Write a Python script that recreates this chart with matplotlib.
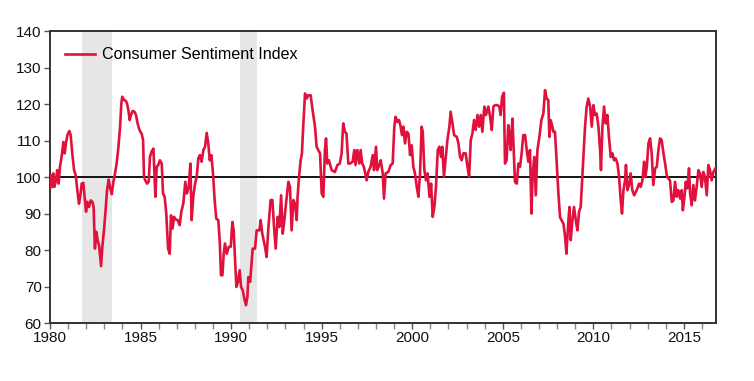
import matplotlib
matplotlib.use("Agg")
import matplotlib.pyplot as plt
from matplotlib.ticker import MultipleLocator

plt.rcParams['font.family'] = ['Liberation Sans', 'DejaVu Sans']

series_name = "Consumer Sentiment Index"

years = [
    1980.00, 1980.06, 1980.11, 1980.18, 1980.24, 1980.33, 1980.40, 1980.48, 1980.55, 1980.64,
    1980.74, 1980.81, 1980.88, 1980.96, 1981.07, 1981.14, 1981.23, 1981.33, 1981.42, 1981.51,
    1981.60, 1981.67, 1981.75, 1981.84, 1981.91, 1981.99, 1982.06, 1982.15, 1982.25, 1982.34,
    1982.41, 1982.48, 1982.56, 1982.63, 1982.71, 1982.82, 1982.89, 1982.98, 1983.07, 1983.15,
    1983.24, 1983.31, 1983.41, 1983.50, 1983.59, 1983.68, 1983.77, 1983.87, 1983.94, 1983.99,
    1984.09, 1984.18, 1984.25, 1984.33, 1984.40, 1984.47, 1984.56, 1984.66, 1984.75, 1984.82,
    1984.91, 1984.99, 1985.06, 1985.14, 1985.19, 1985.26, 1985.36, 1985.45, 1985.52, 1985.60,
    1985.71, 1985.76, 1985.82, 1985.89, 1985.98, 1986.07, 1986.17, 1986.24, 1986.33, 1986.42,
    1986.52, 1986.61, 1986.68, 1986.77, 1986.85, 1986.94, 1987.05, 1987.16, 1987.25, 1987.36,
    1987.47, 1987.56, 1987.66, 1987.75, 1987.82, 1987.91, 1988.01, 1988.10, 1988.19, 1988.28,
    1988.37, 1988.47, 1988.56, 1988.65, 1988.74, 1988.82, 1988.91, 1989.00, 1989.09, 1989.18,
    1989.29, 1989.37, 1989.44, 1989.52, 1989.59, 1989.66, 1989.76, 1989.87, 1989.98, 1990.07,
    1990.14, 1990.22, 1990.29, 1990.38, 1990.47, 1990.55, 1990.64, 1990.73, 1990.82, 1990.90,
    1990.95, 1991.05, 1991.19, 1991.32, 1991.41, 1991.56, 1991.63, 1991.72, 1991.87, 1991.96,
    1992.06, 1992.18, 1992.28, 1992.37, 1992.46, 1992.57, 1992.66, 1992.76, 1992.85, 1992.94,
    1993.03, 1993.16, 1993.25, 1993.34, 1993.44, 1993.53, 1993.62, 1993.67, 1993.75, 1993.84,
    1993.91, 1993.98, 1994.08, 1994.17, 1994.26, 1994.39, 1994.50, 1994.63, 1994.72, 1994.81,
    1994.91, 1995.00, 1995.09, 1995.18, 1995.24, 1995.31, 1995.40, 1995.55, 1995.73, 1995.87,
    1996.00, 1996.10, 1996.19, 1996.28, 1996.37, 1996.47, 1996.56, 1996.71, 1996.80, 1996.87,
    1996.97, 1997.08, 1997.15, 1997.24, 1997.33, 1997.48, 1997.57, 1997.70, 1997.82, 1997.89,
    1998.00, 1998.07, 1998.18, 1998.26, 1998.37, 1998.44, 1998.53, 1998.68, 1998.81, 1998.92,
    1999.01, 1999.08, 1999.18, 1999.27, 1999.36, 1999.43, 1999.51, 1999.60, 1999.69, 1999.79,
    1999.88, 1999.97, 2000.06, 2000.15, 2000.25, 2000.34, 2000.43, 2000.52, 2000.58, 2000.67,
    2000.76, 2000.85, 2000.95, 2001.04, 2001.13, 2001.22, 2001.31, 2001.41, 2001.50, 2001.59,
    2001.66, 2001.75, 2001.85, 2001.94, 2002.05, 2002.12, 2002.22, 2002.31, 2002.46, 2002.55,
    2002.64, 2002.73, 2002.82, 2002.95, 2003.05, 2003.14, 2003.23, 2003.32, 2003.41, 2003.50,
    2003.60, 2003.69, 2003.78, 2003.87, 2003.98, 2004.07, 2004.20, 2004.30, 2004.39, 2004.48,
    2004.57, 2004.70, 2004.81, 2004.88, 2004.96, 2005.06, 2005.12, 2005.21, 2005.30, 2005.36,
    2005.43, 2005.53, 2005.58, 2005.67, 2005.77, 2005.86, 2005.95, 2006.04, 2006.13, 2006.23,
    2006.32, 2006.41, 2006.50, 2006.58, 2006.65, 2006.74, 2006.82, 2006.91, 2007.02, 2007.13,
    2007.24, 2007.33, 2007.42, 2007.51, 2007.57, 2007.64, 2007.72, 2007.79, 2007.88, 2007.98,
    2008.07, 2008.16, 2008.25, 2008.35, 2008.44, 2008.51, 2008.61, 2008.68, 2008.75, 2008.84,
    2008.93, 2009.03, 2009.12, 2009.21, 2009.30, 2009.36, 2009.45, 2009.54, 2009.63, 2009.72,
    2009.82, 2009.91, 2010.00, 2010.09, 2010.18, 2010.28, 2010.37, 2010.42, 2010.50, 2010.59,
    2010.68, 2010.77, 2010.86, 2010.96, 2011.05, 2011.14, 2011.23, 2011.33, 2011.42, 2011.51,
    2011.58, 2011.66, 2011.75, 2011.80, 2011.88, 2011.99, 2012.06, 2012.15, 2012.25, 2012.34,
    2012.43, 2012.52, 2012.61, 2012.71, 2012.80, 2012.87, 2012.95, 2013.04, 2013.13, 2013.22,
    2013.31, 2013.41, 2013.50, 2013.59, 2013.68, 2013.77, 2013.87, 2013.96, 2014.05, 2014.14,
    2014.23, 2014.33, 2014.42, 2014.51, 2014.60, 2014.69, 2014.79, 2014.88, 2014.94, 2015.03,
    2015.10, 2015.19, 2015.28, 2015.34, 2015.43, 2015.52, 2015.61, 2015.70, 2015.80, 2015.89,
    2015.98, 2016.07, 2016.16, 2016.26, 2016.35, 2016.44, 2016.53, 2016.63, 2016.74,
]

values = [
    97.0, 100.5, 97.3, 101.0, 97.3, 99.1, 101.9, 98.2, 102.8, 105.5,
    109.6, 106.5, 109.2, 111.5, 112.6, 111.5, 106.5, 101.9, 100.5, 96.4,
    92.7, 94.6, 98.2, 98.4, 94.6, 90.5, 93.2, 91.8, 93.6, 93.2,
    91.8, 80.4, 85.0, 82.7, 81.3, 75.6, 80.9, 85.4, 90.9, 96.4,
    99.3, 97.3, 95.3, 98.7, 101.0, 103.7, 107.8, 113.8, 120.2, 122.0,
    121.1, 120.9, 120.2, 118.3, 115.6, 117.0, 118.1, 117.9, 117.0, 115.1,
    113.3, 112.4, 111.9, 110.1, 100.1, 99.1, 98.2, 98.7, 105.5, 106.9,
    107.8, 101.9, 94.6, 102.8, 103.3, 104.6, 103.7, 95.5, 94.6, 90.0,
    80.4, 79.0, 89.5, 85.9, 89.1, 88.4, 88.2, 86.8, 90.5, 92.7,
    98.7, 95.5, 97.3, 103.7, 88.2, 94.6, 98.2, 100.1, 105.1, 106.0,
    104.2, 107.4, 108.3, 112.1, 109.2, 104.6, 106.0, 101.0, 93.7, 88.6,
    88.2, 82.7, 73.1, 73.1, 79.0, 81.8, 79.0, 80.9, 80.9, 87.7,
    85.4, 77.2, 69.9, 71.3, 74.5, 69.9, 69.0, 66.7, 64.9, 67.2,
    72.6, 71.3, 80.4, 80.4, 85.4, 85.4, 88.2, 84.5, 80.9, 78.1,
    86.3, 93.7, 93.7, 86.3, 80.4, 89.1, 86.3, 95.0, 84.5, 88.2,
    92.7, 98.7, 97.3, 85.4, 93.7, 92.7, 88.2, 94.6, 100.1, 104.6,
    106.5, 113.8, 122.9, 121.5, 122.4, 122.4, 118.3, 113.8, 108.3, 107.4,
    106.5, 95.5, 94.6, 107.4, 110.6, 103.7, 104.6, 101.9, 101.4, 103.3,
    103.7, 106.5, 114.7, 112.4, 111.9, 103.7, 103.7, 104.2, 107.4, 103.3,
    107.4, 103.7, 107.4, 103.7, 102.8, 99.1, 101.4, 102.8, 106.0, 101.9,
    108.3, 101.9, 103.3, 104.6, 101.0, 94.1, 101.0, 101.4, 103.3, 103.7,
    113.8, 116.5, 115.1, 115.6, 113.8, 111.5, 113.8, 109.2, 112.4, 111.9,
    106.0, 108.7, 102.8, 101.0, 97.3, 94.6, 101.0, 113.8, 112.4, 101.9,
    99.1, 101.0, 94.6, 98.2, 89.1, 91.8, 97.3, 107.4, 108.3, 105.5,
    108.3, 100.1, 105.5, 110.1, 113.8, 117.9, 114.7, 111.5, 111.0, 109.2,
    105.5, 104.6, 106.5, 106.5, 102.8, 100.1, 110.1, 111.9, 115.6, 112.9,
    117.0, 113.8, 117.0, 112.4, 119.3, 117.0, 119.3, 116.5, 112.9, 119.3,
    119.7, 119.7, 119.3, 117.0, 122.0, 123.1, 103.7, 104.6, 114.2, 112.0,
    107.4, 116.0, 110.1, 98.7, 98.2, 103.7, 102.8, 106.5, 111.5, 111.5,
    107.4, 104.2, 107.4, 90.0, 101.0, 105.5, 95.0, 107.4, 111.0, 115.6,
    117.4, 123.8, 121.5, 121.1, 111.0, 115.6, 114.2, 112.4, 112.4, 103.7,
    95.5, 89.0, 88.1, 87.2, 83.6, 79.0, 87.2, 91.8, 82.7, 88.1,
    91.8, 88.1, 85.4, 90.5, 91.8, 97.3, 105.5, 113.8, 119.3, 121.5,
    119.3, 113.8, 119.7, 117.0, 117.4, 113.8, 107.4, 101.9, 113.8, 119.3,
    114.7, 117.0, 111.0, 105.5, 106.5, 104.6, 105.1, 103.7, 100.0, 93.6,
    90.0, 96.4, 99.1, 103.3, 96.4, 98.2, 101.0, 96.4, 95.0, 95.9,
    96.9, 98.2, 97.3, 99.1, 104.2, 100.0, 102.8, 109.2, 110.6, 106.5,
    97.8, 102.4, 102.8, 107.4, 110.6, 110.1, 106.5, 103.7, 100.5, 99.6,
    99.1, 93.2, 93.6, 98.7, 94.6, 96.4, 94.1, 96.4, 90.9, 94.6,
    98.7, 96.9, 102.4, 95.5, 92.3, 97.8, 93.6, 97.3, 101.9, 101.0,
    97.3, 101.4, 100.0, 95.0, 103.3, 101.9, 99.1, 101.4, 102.4,
]

recessions = [(1981.75, 1983.41), (1990.50, 1991.41)]
baseline = 100
x_ticks = [1980, 1985, 1990, 1995, 2000, 2005, 2010, 2015]
y_ticks = [60, 70, 80, 90, 100, 110, 120, 130, 140]

fig = plt.figure(figsize=(7.54, 3.81), dpi=100)
ax = fig.add_axes([0.0663, 0.152, 0.8833, 0.7666])

for s, e in recessions:
    ax.axvspan(s, e, color='#e6e6e6', lw=0, zorder=0)

ax.axhline(baseline, color='black', lw=1.3, zorder=2)
ax.plot(years, values, color='#e0113c', lw=1.9, label=series_name, zorder=3)

ax.set_xlim(1980, 2016.77)
ax.set_ylim(60, 140)
ax.set_xticks(x_ticks)
ax.set_xticklabels([str(t) for t in x_ticks])
ax.xaxis.set_minor_locator(MultipleLocator(1))
ax.set_yticks(y_ticks)

for sp in ax.spines.values():
    sp.set_color('#333333')
    sp.set_linewidth(1.4)

ax.tick_params(axis='both', which='major', direction='out', length=4, width=1,
               color='#555555', labelsize=11, labelcolor='#111111', pad=2)
ax.tick_params(axis='x', which='minor', direction='out', length=4, width=1, color='#888888')

leg = ax.legend(loc='upper left', frameon=False, fontsize=11.6, handlelength=1.9,
                borderaxespad=0.3, handletextpad=0.4, bbox_to_anchor=(0.005, 0.983))

fig.savefig('out.png', dpi=100)
